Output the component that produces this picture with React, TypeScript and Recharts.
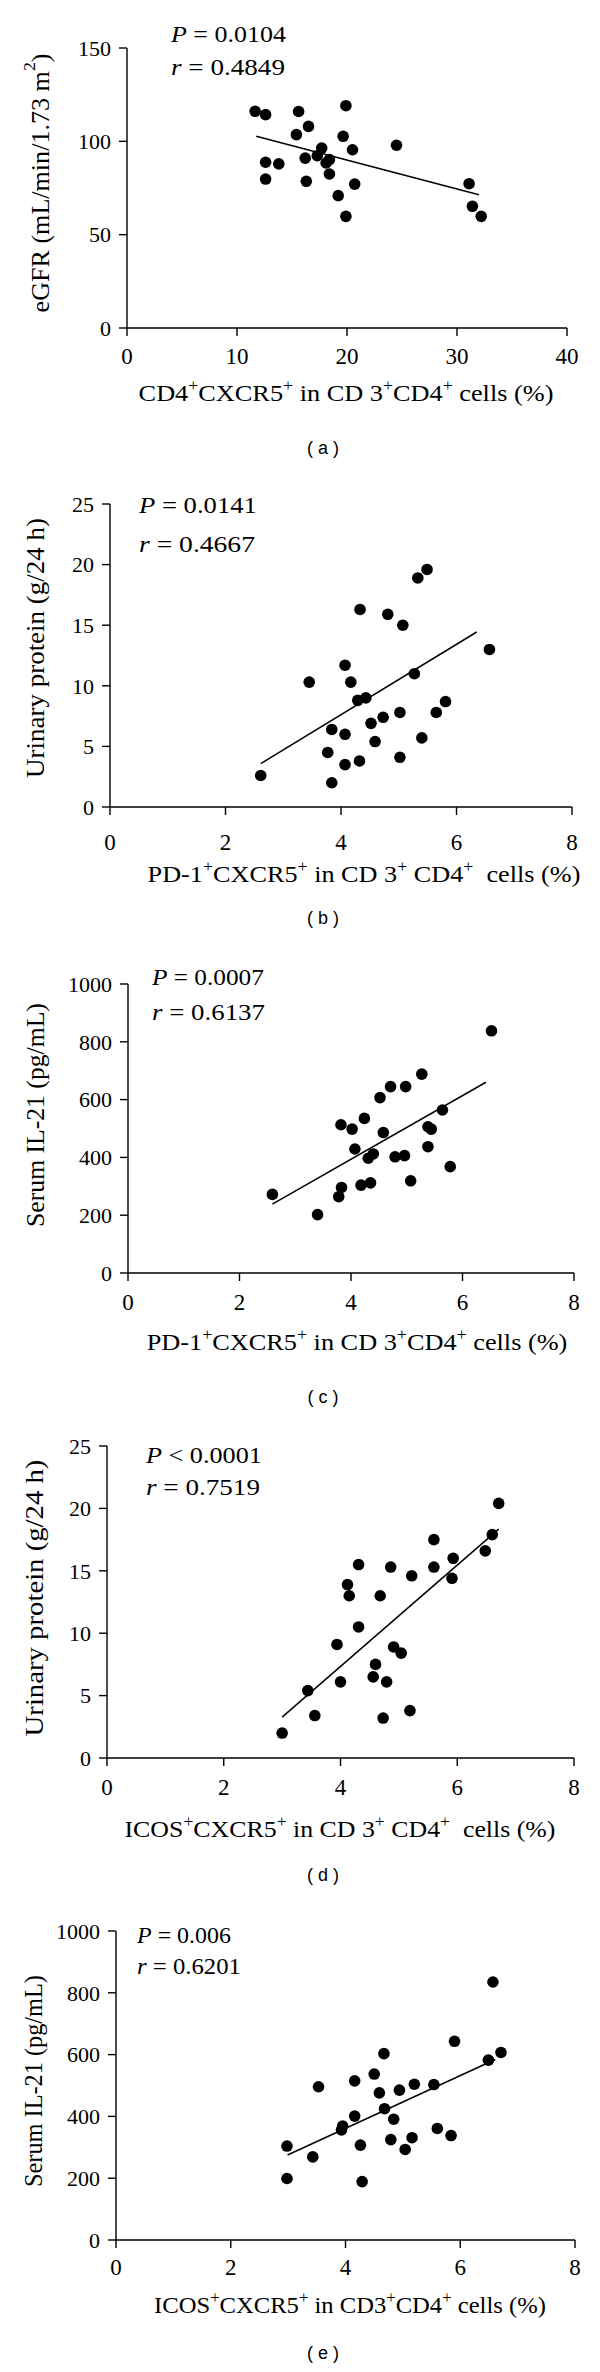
import React, { useLayoutEffect, useRef, useState } from 'react';
import { ScatterChart, Scatter, XAxis, YAxis, ReferenceLine } from 'recharts';

const SERIF = '"Liberation Serif", "Times New Roman", serif';
const SANS = '"Liberation Sans", Arial, sans-serif';

// (a) eGFR vs CD4+CXCR5+ (%)
const aX = [11.65, 12.6, 15.6, 19.9, 16.5, 15.4, 19.65, 17.7, 24.5, 20.5, 16.2, 17.3, 18.1, 18.4, 12.6, 13.8, 18.4, 12.6, 16.3, 20.7, 31.1, 19.2, 31.4, 19.9, 32.2];
const aY = [116.1, 114.3, 116, 119.1, 108, 103.6, 102.7, 96.4, 97.9, 95.5, 91, 92.3, 88.4, 90.2, 88.8, 87.9, 82.5, 79.8, 78.6, 77.1, 77.3, 70.9, 65.2, 59.8, 59.8];
const aFit = [[11.75, 102.7], [32.0, 71.4]];
const aXTicks = [0, 10, 20, 30, 40];
const aYTicks = [0, 50, 100, 150];

// (b) urinary protein vs PD-1+CXCR5+ (%)
const bX = [5.49, 5.33, 4.33, 4.81, 5.07, 6.57, 4.07, 5.27, 3.45, 4.17, 4.29, 4.43, 5.81, 5.02, 5.65, 4.73, 4.52, 3.84, 4.07, 5.4, 4.59, 3.77, 5.02, 4.07, 4.32, 2.61, 3.84];
const bY = [19.6, 18.9, 16.3, 15.9, 15.0, 13.0, 11.7, 11.0, 10.3, 10.3, 8.8, 9.0, 8.7, 7.8, 7.8, 7.4, 6.9, 6.4, 6.0, 5.7, 5.4, 4.5, 4.1, 3.5, 3.8, 2.6, 2.0];
const bFit = [[2.61, 3.58], [6.35, 14.44]];

// (c) serum IL-21 vs PD-1+CXCR5+ (%)
const cX = [6.52, 5.27, 4.71, 4.98, 4.52, 5.64, 4.24, 3.82, 4.02, 5.38, 5.44, 4.58, 4.07, 5.38, 4.4, 4.31, 4.79, 4.96, 5.78, 5.07, 4.18, 4.35, 3.83, 3.78, 2.59, 3.4];
const cY = [838, 688, 645, 645, 607, 564, 535, 513, 498, 506, 498, 486, 429, 437, 412, 397, 402, 406, 368, 319, 304, 312, 296, 264, 272, 202];
const cFit = [[2.59, 238], [6.42, 660]];

// (d) urinary protein vs ICOS+CXCR5+ (%)
const dX = [6.71, 6.6, 6.48, 5.6, 5.93, 5.91, 5.6, 4.86, 5.22, 4.31, 4.12, 4.15, 4.68, 4.31, 3.94, 4.91, 5.04, 4.6, 4.56, 4.0, 4.79, 3.44, 5.19, 3.56, 4.73, 3.0];
const dY = [20.4, 17.9, 16.6, 17.5, 16.0, 14.4, 15.3, 15.3, 14.6, 15.5, 13.9, 13.0, 13.0, 10.5, 9.1, 8.9, 8.4, 7.5, 6.5, 6.1, 6.1, 5.4, 3.8, 3.4, 3.2, 2.0];
const dFit = [[3.0, 3.28], [6.71, 18.34]];

// (e) serum IL-21 vs ICOS+CXCR5+ (%)
const eX = [6.57, 5.9, 6.71, 6.49, 4.67, 4.5, 4.16, 5.2, 5.54, 3.53, 4.94, 4.59, 4.68, 4.16, 4.84, 3.95, 3.93, 5.6, 5.84, 4.79, 5.16, 4.26, 5.04, 2.98, 3.43, 2.98, 4.29];
const eY = [835, 643, 607, 582, 603, 537, 515, 504, 503, 496, 485, 476, 425, 401, 391, 369, 356, 361, 338, 325, 331, 307, 293, 304, 269, 199, 189];
const eFit = [[2.99, 275], [6.61, 584]];

const pctTicks = [0, 2, 4, 6, 8];
const proteinTicks = [0, 5, 10, 15, 20, 25];
const il21Ticks = [0, 200, 400, 600, 800, 1000];

const xLabels = [
  'CD4^+CXCR5^+ in CD 3^+CD4^+ cells (%)',
  'PD-1^+CXCR5^+ in CD 3^+ CD4^+  cells (%)',
  'PD-1^+CXCR5^+ in CD 3^+CD4^+ cells (%)',
  'ICOS^+CXCR5^+ in CD 3^+ CD4^+  cells (%)',
  'ICOS^+CXCR5^+ in CD3^+CD4^+ cells (%)',
];
const yLabels = [
  'eGFR (mL/min/1.73 m^2)',
  'Urinary protein (g/24 h)',
  'Serum IL-21 (pg/mL)',
  'Urinary protein (g/24 h)',
  'Serum IL-21 (pg/mL)',
];
const pLabels = ['= 0.0104', '= 0.0141', '= 0.0007', '< 0.0001', '= 0.006'];
const rLabels = ['= 0.4849', '= 0.4667', '= 0.6137', '= 0.7519', '= 0.6201'];
const panelTags = ['a', 'b', 'c', 'd', 'e'];

const toPoints = (xs: number[], ys: number[]) => xs.map((x, i) => ({ x, y: ys[i] }));

// layout: plot box (l, r, t, b) in panel pixels; xl = [cx, baseline, width]; yl = [cx, cy, length];
// ann = [x, P baseline, r baseline, P width, r width]
const panels = [
  { pts: toPoints(aX, aY), fit: aFit, xDom: [0, 40], xTicks: aXTicks, yDom: [0, 150], yTicks: aYTicks,
    top: 0, h: 470, l: 127, r: 567, t: 48, b: 328, xm: 12,
    xl: [346, 401, 415], yl: [40, 183, 259], ann: [171, 42, 75, 116, 114], tag: 454 },
  { pts: toPoints(bX, bY), fit: bFit, xDom: [0, 8], xTicks: pctTicks, yDom: [0, 25], yTicks: proteinTicks,
    top: 470, h: 480, l: 110, r: 572, t: 34, b: 337, xm: 19,
    xl: [364, 412, 433], yl: [35, 178, 260], ann: [139, 43, 82, 119, 116], tag: 454 },
  { pts: toPoints(cX, cY), fit: cFit, xDom: [0, 8], xTicks: pctTicks, yDom: [0, 1000], yTicks: il21Ticks,
    top: 950, h: 480, l: 128, r: 574, t: 34, b: 323, xm: 13,
    xl: [357, 400, 421], yl: [35, 165, 224], ann: [152, 35, 70, 113, 113], tag: 453 },
  { pts: toPoints(dX, dY), fit: dFit, xDom: [0, 8], xTicks: pctTicks, yDom: [0, 25], yTicks: proteinTicks,
    top: 1430, h: 470, l: 107, r: 574, t: 16, b: 328, xm: 13,
    xl: [340, 407, 431], yl: [35, 168, 277], ann: [146, 33, 65, 117, 114], tag: 451 },
  { pts: toPoints(eX, eY), fit: eFit, xDom: [0, 8], xTicks: pctTicks, yDom: [0, 1000], yTicks: il21Ticks,
    top: 1900, h: 472, l: 116, r: 575, t: 31, b: 340, xm: 11,
    xl: [350, 413, 392], yl: [33, 181, 212], ann: [137, 43, 74, 95, 104], tag: 459 },
];

// "^" marks the next character as a superscript
function rich(s: string, size: number) {
  const parts = s.split(/(\^.)/).filter(Boolean);
  const shift = size * 0.42;
  let up = false;
  return parts.map((p, i) => {
    if (p.startsWith('^')) {
      const dy = up ? 0 : -shift;
      up = true;
      return <tspan key={i} dy={dy} fontSize={size * 0.68}>{p.slice(1)}</tspan>;
    }
    const dy = up ? shift : 0;
    up = false;
    return <tspan key={i} dy={dy} fontSize={size}>{p}</tspan>;
  });
}

// text squeezed/stretched horizontally to a measured width, like the scanned figure
function FitText({ x, y, width, rotate = 0, anchor = 'middle', size = 24, central = false, children }: any) {
  const ref = useRef<SVGTextElement>(null);
  const [sx, setSx] = useState(1);
  useLayoutEffect(() => {
    const w = ref.current ? ref.current.getBBox().width : 0;
    if (w > 0) setSx(width / w);
  }, [width]);
  return (
    <g transform={`translate(${x},${y}) rotate(${rotate}) scale(${sx},1)`}>
      <text ref={ref} x={0} y={0} textAnchor={anchor} fontFamily={SERIF} fontSize={size} fill="#000"
        dominantBaseline={central ? 'central' : undefined} style={{ whiteSpace: 'pre' }}>
        {children}
      </text>
    </g>
  );
}

const dot = (props: any) => <circle cx={props.cx} cy={props.cy} r={5.8} fill="#000" />;

function Panel({ p, i }: { p: any; i: number }) {
  const fs = 24;
  return (
    <div style={{ position: 'absolute', left: 0, top: p.top }}>
      <ScatterChart width={600} height={p.h} margin={{ top: p.t, right: 600 - p.r, left: 0, bottom: 0 }}>
        <XAxis type="number" dataKey="x" domain={p.xDom} ticks={p.xTicks} interval={0} height={p.h - p.b}
          axisLine={{ stroke: '#000', strokeWidth: 1.4 }} tickLine={{ stroke: '#000', strokeWidth: 1.4 }}
          tickSize={8} tickMargin={p.xm} tick={{ fill: '#000', fontSize: 23, fontFamily: SERIF }} />
        <YAxis type="number" dataKey="y" domain={p.yDom} ticks={p.yTicks} interval={0} width={p.l}
          axisLine={{ stroke: '#000', strokeWidth: 1.4 }} tickLine={{ stroke: '#000', strokeWidth: 1.4 }}
          tickSize={8} tickMargin={8} tick={{ fill: '#000', fontSize: 22, fontFamily: SERIF }} />
        <Scatter data={p.pts} shape={dot} isAnimationActive={false} />
        <ReferenceLine segment={[{ x: p.fit[0][0], y: p.fit[0][1] }, { x: p.fit[1][0], y: p.fit[1][1] }]}
          stroke="#000" strokeWidth={1.5} ifOverflow="visible" />
        <FitText x={p.xl[0]} y={p.xl[1]} width={p.xl[2]}>{rich(xLabels[i], fs)}</FitText>
        <FitText x={p.yl[0]} y={p.yl[1]} width={p.yl[2]} rotate={-90} central>{rich(yLabels[i], 25)}</FitText>
        <FitText x={p.ann[0]} y={p.ann[1]} width={p.ann[3]} anchor="start">
          <tspan fontStyle="italic">P</tspan> {pLabels[i]}
        </FitText>
        <FitText x={p.ann[0]} y={p.ann[2]} width={p.ann[4]} anchor="start">
          <tspan fontStyle="italic">r</tspan> {rLabels[i]}
        </FitText>
        <text x={323} y={p.tag} textAnchor="middle" fontFamily={SANS} fontSize={18} fill="#000" style={{ whiteSpace: 'pre' }}>
          {`( ${panelTags[i]} )`}
        </text>
      </ScatterChart>
    </div>
  );
}

export default function App() {
  return (
    <div style={{ position: 'absolute', left: 0, top: 0, width: 600, height: 2372, background: '#fff' }}>
      {panels.map((p, i) => <Panel key={i} p={p} i={i} />)}
    </div>
  );
}
